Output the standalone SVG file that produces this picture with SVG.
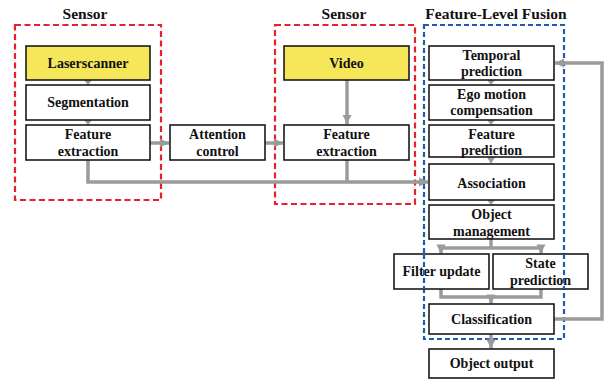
<svg xmlns="http://www.w3.org/2000/svg" width="608" height="383" viewBox="0 0 608 383">
  <style>
    .box { fill: #ffffff; stroke: #1a1a1a; stroke-width: 1.6; }
    .src { fill: #f6e65a; }
    .lbl { font-family: "Liberation Serif", "Times New Roman", serif; font-weight: bold; font-size: 14px; fill: #111; text-anchor: middle; }
    .ttl { font-family: "Liberation Serif", "Times New Roman", serif; font-weight: bold; font-size: 15.5px; fill: #111; text-anchor: middle; }
    .red { fill: none; stroke: #e8202a; stroke-width: 2.2; stroke-dasharray: 6 3.5; }
    .blue { fill: none; stroke: #1f5cad; stroke-width: 2.2; stroke-dasharray: 5 3; }
    .con { fill: none; stroke: #9b9b9b; stroke-width: 3.5; }
    .tip { fill: #9b9b9b; }
  </style>
  <defs>
    <marker id="ah" viewBox="0 0 10 10" refX="10" refY="5" markerWidth="2.6" markerHeight="2.6" orient="auto" markerUnits="strokeWidth">
      <path d="M0,0 L10,5 L0,10 z" fill="#9b9b9b"/>
    </marker>
  </defs>

  <rect width="608" height="383" fill="#ffffff"/>

  <!-- group frames -->
  <g id="frame-laser">
    <rect class="red" x="15" y="25" width="146" height="175"/>
    <text class="ttl" x="85" y="19">Sensor</text>
  </g>
  <g id="frame-video">
    <rect class="red" x="275" y="25" width="140" height="179"/>
    <text class="ttl" x="344" y="19">Sensor</text>
  </g>
  <g id="frame-fusion">
    <rect class="blue" x="424" y="25" width="140" height="314"/>
    <text class="ttl" x="496" y="19">Feature-Level Fusion</text>
  </g>

  <!-- connectors -->
  <g id="connectors">
    <path class="con" d="M150,143 H169" marker-end="url(#ah)"/>
    <path class="con" d="M265,143 H283" marker-end="url(#ah)"/>
    <path class="con" d="M347,80 V124" marker-end="url(#ah)"/>
    <path class="con" d="M88,160 V182 H428" marker-end="url(#ah)"/>
    <path class="con" d="M347,160 V182"/>
    <path class="con" d="M491,239 V248"/>
    <path class="con" d="M441,248 H541"/>
    <path class="con" d="M441,248 V253.5" marker-end="url(#ah)"/>
    <path class="con" d="M541,248 V253.5" marker-end="url(#ah)"/>
    <path class="con" d="M441,289 V297 H541 V289"/>
    <path class="con" d="M491,297 V303.5" marker-end="url(#ah)"/>
    <path class="con" d="M491,334 V348.5" marker-end="url(#ah)"/>
    <path class="con" d="M554,319 H602 V63 H555" marker-end="url(#ah)"/>
    <!-- small heads between stacked blocks -->
    <path class="tip" d="M84,80 H92 L88,85 z"/>
    <path class="tip" d="M84,120 H92 L88,125 z"/>
    <path class="tip" d="M487,80 H495 L491,85 z"/>
    <path class="tip" d="M487,120 H495 L491,125 z"/>
    <path class="tip" d="M487,157 H495 L491,164 z"/>
    <path class="tip" d="M487,200 H495 L491,205 z"/>
  </g>

  <!-- laser scanner chain -->
  <g id="laserscanner">
    <rect class="box src" x="26" y="46" width="124" height="34"/>
    <text class="lbl" x="88" y="68">Laserscanner</text>
  </g>
  <g id="segmentation">
    <rect class="box" x="26" y="85" width="124" height="35"/>
    <text class="lbl" x="88" y="107">Segmentation</text>
  </g>
  <g id="feature-extraction-laser">
    <rect class="box" x="26" y="125" width="124" height="35"/>
    <text class="lbl" x="88" y="139">Feature</text>
    <text class="lbl" x="88" y="156">extraction</text>
  </g>

  <g id="attention-control">
    <rect class="box" x="170" y="125" width="95" height="35"/>
    <text class="lbl" x="217.5" y="139">Attention</text>
    <text class="lbl" x="217.5" y="156">control</text>
  </g>

  <!-- video chain -->
  <g id="video">
    <rect class="box src" x="284" y="46" width="125" height="34"/>
    <text class="lbl" x="346.5" y="68">Video</text>
  </g>
  <g id="feature-extraction-video">
    <rect class="box" x="284" y="125" width="125" height="35"/>
    <text class="lbl" x="346.5" y="139">Feature</text>
    <text class="lbl" x="346.5" y="156">extraction</text>
  </g>

  <!-- fusion chain -->
  <g id="temporal-prediction">
    <rect class="box" x="429" y="46" width="125" height="34"/>
    <text class="lbl" x="491.5" y="60">Temporal</text>
    <text class="lbl" x="491.5" y="76">prediction</text>
  </g>
  <g id="ego-motion">
    <rect class="box" x="429" y="85" width="125" height="35"/>
    <text class="lbl" x="491.5" y="99">Ego motion</text>
    <text class="lbl" x="491.5" y="115">compensation</text>
  </g>
  <g id="feature-prediction">
    <rect class="box" x="429" y="125" width="125" height="32"/>
    <text class="lbl" x="491.5" y="139">Feature</text>
    <text class="lbl" x="491.5" y="155">prediction</text>
  </g>
  <g id="association">
    <rect class="box" x="429" y="164" width="125" height="36"/>
    <text class="lbl" x="491.5" y="188">Association</text>
  </g>
  <g id="object-management">
    <rect class="box" x="429" y="205" width="125" height="34"/>
    <text class="lbl" x="491.5" y="219">Object</text>
    <text class="lbl" x="491.5" y="236">management</text>
  </g>
  <g id="filter-update">
    <rect class="box" x="394" y="254" width="95" height="35"/>
    <text class="lbl" x="441.5" y="276">Filter update</text>
  </g>
  <g id="state-prediction">
    <rect class="box" x="493" y="254" width="95" height="35"/>
    <text class="lbl" x="540.5" y="268">State</text>
    <text class="lbl" x="540.5" y="285">prediction</text>
  </g>
  <g id="classification">
    <rect class="box" x="429" y="304" width="125" height="30"/>
    <text class="lbl" x="491.5" y="324">Classification</text>
  </g>
  <g id="object-output">
    <rect class="box" x="429" y="349" width="125" height="29"/>
    <text class="lbl" x="491.5" y="368">Object output</text>
  </g>

  <!-- blue frame edge crossing the lower row is drawn over boxes -->
  <path class="blue" d="M424,254 V289 M564,254 V289"/>
</svg>
